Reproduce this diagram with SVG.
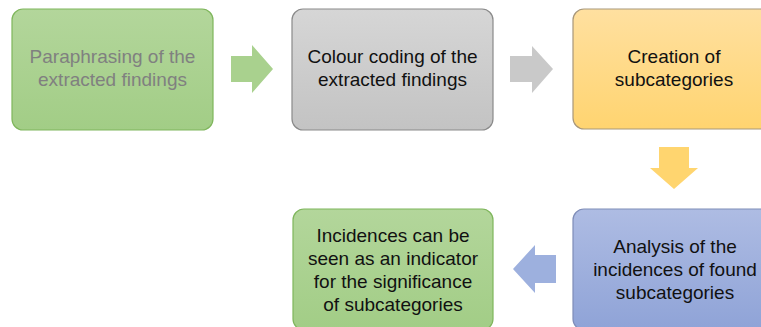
<svg xmlns="http://www.w3.org/2000/svg" width="761" height="327" viewBox="0 0 761 327">
<defs>
<linearGradient id="gGreen" x1="0" y1="0" x2="0" y2="1"><stop offset="0" stop-color="#b3d69b"/><stop offset="1" stop-color="#a2cd86"/></linearGradient>
<linearGradient id="gGray" x1="0" y1="0" x2="0" y2="1"><stop offset="0" stop-color="#d6d6d6"/><stop offset="1" stop-color="#c3c3c3"/></linearGradient>
<linearGradient id="gOrange" x1="0" y1="0" x2="0" y2="1"><stop offset="0" stop-color="#ffe0a0"/><stop offset="1" stop-color="#ffd470"/></linearGradient>
<linearGradient id="gBlue" x1="0" y1="0" x2="0" y2="1"><stop offset="0" stop-color="#aebce3"/><stop offset="1" stop-color="#8fa3d7"/></linearGradient>
</defs>
<style>
.box{stroke-width:1.2}
.t{font-family:"Liberation Sans",Arial,sans-serif;font-size:19px;text-anchor:middle;fill:#111}
</style>
<g id="connectors">
<polygon points="231,56 252,56 252,45 273,69 252,93 252,82 231,82" fill="#a9d18e"/>
<polygon points="510,56 532,56 532,46 553,69 532,93 532,82 510,82" fill="#c9c9c9"/>
<polygon points="659,147 689,147 689,168 698,168 674,189 650,168 659,168" fill="#ffd56f"/>
<polygon points="556,255 535,255 535,245 513,269 535,293 535,283 556,283" fill="#9db0de"/>
</g>
<g id="node1">
<rect class="box" x="12" y="9" width="201" height="121" rx="11" fill="url(#gGreen)" stroke="#7fb65c"/>
<text class="t" x="112.5" y="63" style="fill:#808080">Paraphrasing of the</text>
<text class="t" x="112.5" y="86" style="fill:#808080">extracted findings</text>
</g>
<g id="node2">
<rect class="box" x="292" y="9" width="201" height="121" rx="11" fill="url(#gGray)" stroke="#8a8a8a"/>
<text class="t" x="392.5" y="63">Colour coding of the</text>
<text class="t" x="392.5" y="86">extracted findings</text>
</g>
<g id="node3">
<rect class="box" x="573" y="9" width="202" height="120" rx="11" fill="url(#gOrange)" stroke="#a8977a"/>
<text class="t" x="674" y="63">Creation of</text>
<text class="t" x="674" y="86">subcategories</text>
</g>
<g id="node4">
<rect class="box" x="293" y="209" width="200" height="121" rx="11" fill="url(#gGreen)" stroke="#7fb65c"/>
<text class="t" x="393" y="242">Incidences can be</text>
<text class="t" x="393" y="265">seen as an indicator</text>
<text class="t" x="393" y="288">for the significance</text>
<text class="t" x="393" y="311">of subcategories</text>
</g>
<g id="node5">
<rect class="box" x="573" y="209" width="202" height="121" rx="11" fill="url(#gBlue)" stroke="#7f8db8"/>
<text class="t" x="675" y="253">Analysis of the</text>
<text class="t" x="675" y="276">incidences of found</text>
<text class="t" x="675" y="299">subcategories</text>
</g>
</svg>
